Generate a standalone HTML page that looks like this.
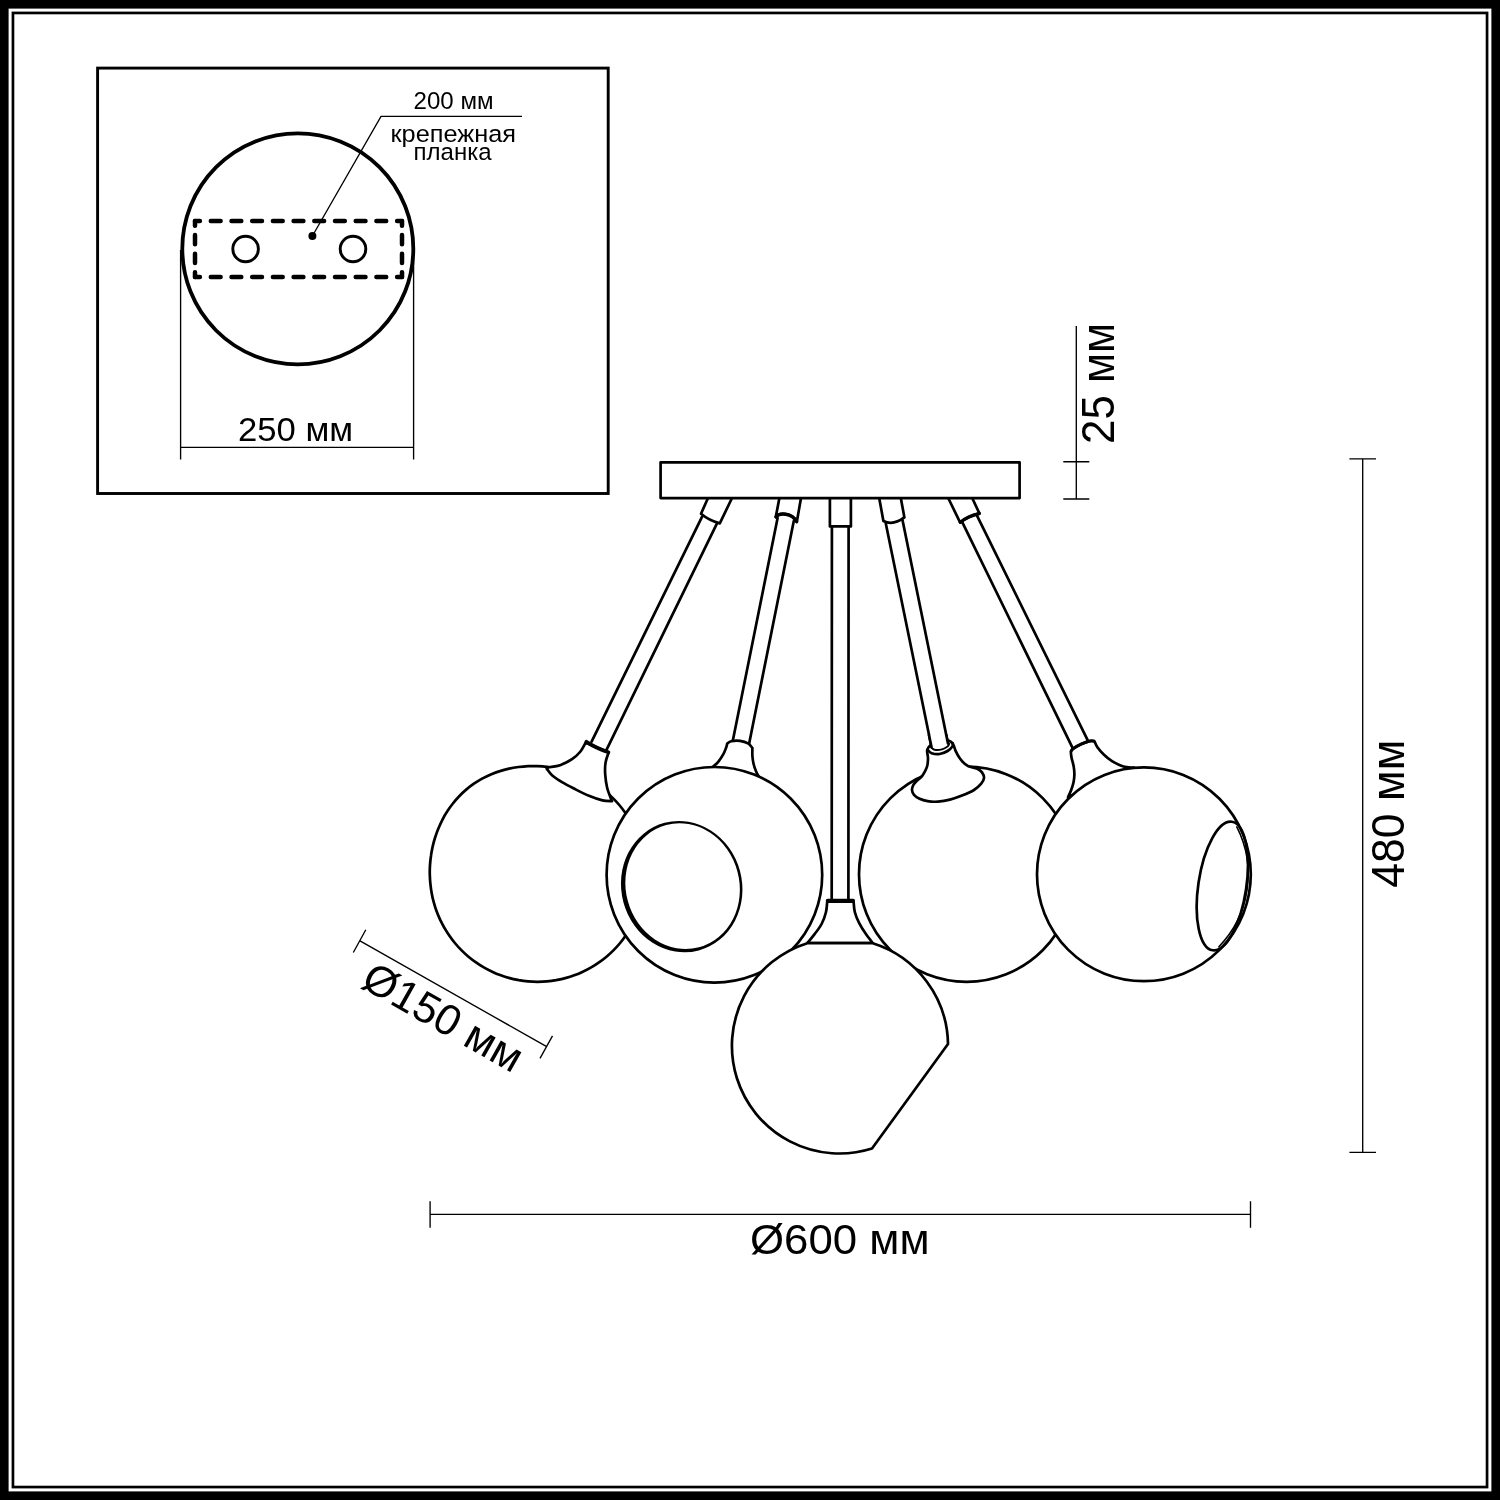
<!DOCTYPE html>
<html lang="ru">
<head>
<meta charset="utf-8">
<title>Схема светильника</title>
<style>
html,body{margin:0;padding:0;background:#fff;}
body{width:1500px;height:1500px;overflow:hidden;}
svg{display:block;}
svg{will-change:transform;}
text{font-family:"Liberation Sans",sans-serif;fill:#000;}
.l{fill:none;stroke:#000;stroke-width:2.7;stroke-linecap:round;stroke-linejoin:round;}
.f{fill:#fff;stroke:#000;stroke-width:2.7;stroke-linecap:round;stroke-linejoin:round;}
.t{fill:none;stroke:#000;stroke-width:1.35;}
</style>
</head>
<body>
<svg width="1500" height="1500" viewBox="0 0 1500 1500">

<rect x="0" y="0" width="1500" height="1500" fill="#000"/>
<rect x="8.6" y="8.6" width="1482.8" height="1482.8" fill="#fff"/>
<rect x="11.6" y="11.6" width="1476.8" height="1476.8" fill="#000"/>
<rect x="14.3" y="14.3" width="1471.4" height="1471.4" fill="#fff"/>
<g id="inset">
<rect x="97.6" y="68.1" width="510.6" height="425.4" fill="none" stroke="#000" stroke-width="2.9"/>
<circle cx="297.8" cy="248.8" r="115.5" fill="none" stroke="#000" stroke-width="3.8"/>
<path d="M195 221 H402 M195 277 H402" fill="none" stroke="#000" stroke-width="4.5" stroke-dasharray="9.8 10.9" stroke-dashoffset="4.9" stroke-linecap="round"/>
<path d="M195 221 V277 M402 221 V277" fill="none" stroke="#000" stroke-width="4.5" stroke-dasharray="9.4 9.267" stroke-dashoffset="4.7" stroke-linecap="round"/>
<circle cx="245.6" cy="249" r="12.8" fill="none" stroke="#000" stroke-width="2.9"/>
<circle cx="353" cy="249" r="12.8" fill="none" stroke="#000" stroke-width="2.9"/>
<circle cx="312.4" cy="236" r="4" fill="#000"/>
<path class="t" d="M312.4 236 L381 116.3 H522"/>
<path class="t" d="M180.6 250 V459.6 M413.6 250 V459.6 M180.6 447.4 H413.6"/>
<text x="413.5" y="109.3" font-size="23" textLength="80" lengthAdjust="spacingAndGlyphs">200 мм</text>
<text x="390.5" y="141.8" font-size="23.7" textLength="125.5" lengthAdjust="spacingAndGlyphs">крепежная</text>
<text x="413.6" y="159.8" font-size="23.7" textLength="78" lengthAdjust="spacingAndGlyphs">планка</text>
<text x="238" y="440.6" font-size="33.3" textLength="115.1" lengthAdjust="spacingAndGlyphs">250 мм</text>
</g>
<g id="dims">
<path class="t" d="M1076.3 326 V499 M1063.3 461.7 H1089.3 M1063.3 499 H1089.3"/>
<path class="t" d="M1362.7 458.9 V1152.3 M1349.4 458.9 H1376 M1349.4 1152.3 H1376"/>
<path class="t" d="M430.1 1214.4 H1250.5 M430.1 1201.3 V1227.7 M1250.5 1201.3 V1227.7"/>
<path class="t" d="M360 940.8 L546.7 1046.7 M365.8 929.7 L353.3 952.5 M552.5 1035.8 L540 1058.3"/>
<text x="750" y="1253.9" font-size="42.5" textLength="179.5" lengthAdjust="spacingAndGlyphs">Ø600 мм</text>
<text transform="translate(1404.4 887.8) rotate(-90)" font-size="46.4" textLength="148.1" lengthAdjust="spacingAndGlyphs">480 мм</text>
<text transform="translate(1114.3 444) rotate(-90)" font-size="45.6" textLength="121.2" lengthAdjust="spacingAndGlyphs">25 мм</text>
<text transform="translate(359.2 986.6) rotate(29.5)" font-size="43.2" textLength="176.5" lengthAdjust="spacingAndGlyphs">Ø150 мм</text>
</g>
<g id="lamp">
<path class="l" d="M702.0 516.8 L591.6 741.6 M717.0 523.4 L606.0 750.8 M777.6 518.0 L732.8 740.8 M793.8 521.0 L749.2 743.2 M831.9 526.4 L831.7 899.5 M848.6 526.4 L848.4 899.5 M885.8 523.4 L931.6 747.6 M902.6 520.4 L948.0 743.6 M962.6 522.8 L1072.8 748.4 M977.0 515.6 L1088.0 740.8"/>
<path class="f" d="M708 498 L701 513.8 Q709 520.5 719.8 523.4 L732 498"/>
<path class="f" d="M779.4 498 L775.8 516.8 C779 512.3 792 512.3 796.8 522 L801 498"/>
<path class="l" style="stroke-width:3.4" d="M776 517 C779 512.5 792 512.5 796.6 521.6"/>
<path class="f" d="M829.9 498 V526.4 H850.9 V498"/>
<path class="f" d="M879.2 498 L883.4 521 Q893 526 904.4 517.4 L900.8 498"/>
<path class="f" d="M948.2 498 L960.2 522.6 Q968 516 979.4 513.4 L972.2 498"/>
<path class="l" style="stroke-width:3.4" d="M960.4 522.2 Q968 516 979.2 513.6"/>
<rect class="f" x="660.6" y="462.3" width="359" height="35.8"/>
<path class="f" d="M827.2 901.6 C827.0 903.3 826.9 908.3 826.0 912.0 C825.1 915.7 823.5 920.3 821.6 924.0 C819.7 927.7 816.8 931.2 814.4 934.4 C812.0 937.6 808.4 941.7 807.2 943.2 L872.8 943.2  C871.6 941.6 867.9 936.9 865.6 933.6 C863.3 930.3 861.0 926.8 859.2 923.2 C857.4 919.6 855.7 915.6 854.8 912.0 C853.9 908.4 853.8 903.3 853.6 901.6 Z"/>
<path class="l" style="stroke-width:3.6" d="M827.6 900.6 H853.2"/>
<path class="f" d="M644.8 874.5 C644.8 877.6 644.7 880.7 644.4 883.9 C644.1 887.0 643.7 890.1 643.2 893.1 C642.6 896.2 642.0 899.3 641.1 902.3 C640.3 905.3 639.4 908.3 638.3 911.2 C637.3 914.1 636.1 917.0 634.7 919.8 C633.4 922.7 632.0 925.5 630.4 928.2 C628.9 930.8 627.2 933.5 625.4 936.0 C623.6 938.6 621.7 941.1 619.7 943.5 C617.7 945.9 615.6 948.2 613.4 950.4 C611.2 952.6 608.9 954.7 606.5 956.7 C604.1 958.7 601.6 960.6 599.0 962.4 C596.5 964.2 593.8 965.9 591.2 967.4 C588.5 969.0 585.7 970.4 582.8 971.7 C580.0 973.1 577.1 974.3 574.2 975.3 C571.3 976.4 568.3 977.3 565.3 978.1 C562.3 979.0 559.2 979.6 556.1 980.2 C553.1 980.7 550.0 981.1 546.9 981.4 C543.7 981.7 540.6 981.8 537.5 981.8 C534.4 981.8 531.3 981.7 528.1 981.4 C525.0 981.1 521.9 980.7 518.9 980.2 C515.8 979.6 512.7 979.0 509.7 978.1 C506.7 977.3 503.7 976.4 500.8 975.3 C497.9 974.3 495.0 973.1 492.2 971.7 C489.3 970.4 486.5 969.0 483.8 967.4 C481.2 965.9 478.5 964.2 476.0 962.4 C473.4 960.6 470.9 958.7 468.5 956.7 C466.1 954.7 463.8 952.6 461.6 950.4 C459.4 948.2 457.3 945.9 455.3 943.5 C453.3 941.1 451.4 938.6 449.6 936.0 C447.8 933.5 446.1 930.9 444.6 928.2 C443.0 925.5 441.6 922.7 440.2 919.9 C438.9 917.0 437.7 914.1 436.6 911.2 C435.5 908.3 434.6 905.3 433.8 902.3 C432.9 899.3 432.2 896.2 431.7 893.2 C431.1 890.1 430.7 887.0 430.4 883.9 C430.0 880.8 429.9 877.6 429.8 874.5 C429.7 871.4 429.8 868.2 430.0 865.1 C430.2 862.0 430.5 858.8 431.0 855.7 C431.4 852.6 432.0 849.5 432.7 846.4 C433.4 843.3 434.2 840.3 435.2 837.3 C436.2 834.2 437.2 831.3 438.5 828.3 C439.7 825.4 441.0 822.5 442.5 819.6 C443.9 816.8 445.5 814.0 447.3 811.3 C449.0 808.6 450.9 806.0 452.9 803.5 C454.8 800.9 457.0 798.5 459.2 796.2 C461.4 793.9 463.8 791.6 466.2 789.6 C468.7 787.5 471.3 785.5 473.9 783.7 C476.6 781.9 479.3 780.2 482.1 778.6 C485.0 777.1 487.9 775.7 490.8 774.4 C493.8 773.2 496.8 772.0 499.9 771.1 C502.9 770.1 506.0 769.3 509.1 768.6 C512.2 767.9 515.4 767.4 518.5 767.0 C521.7 766.6 524.9 766.3 528.0 766.1 C531.2 766.0 534.3 766.0 537.5 766.1 C540.7 766.2 543.8 766.4 546.9 766.8 C550.0 767.2 553.2 767.7 556.2 768.3 C559.3 768.9 562.4 769.6 565.4 770.5 C568.4 771.4 571.4 772.4 574.3 773.5 C577.2 774.6 580.1 775.8 582.9 777.1 C585.7 778.5 588.5 779.9 591.2 781.5 C593.9 783.1 596.5 784.8 599.1 786.6 C601.6 788.4 604.1 790.3 606.5 792.3 C608.9 794.3 611.2 796.4 613.4 798.6 C615.6 800.8 617.7 803.1 619.7 805.5 C621.7 807.9 623.6 810.4 625.4 813.0 C627.2 815.5 628.9 818.1 630.4 820.8 C632.0 823.5 633.4 826.3 634.7 829.2 C636.1 832.0 637.3 834.9 638.3 837.8 C639.4 840.7 640.3 843.7 641.1 846.7 C642.0 849.7 642.6 852.8 643.2 855.9 C643.7 858.9 644.1 862.0 644.4 865.1 C644.7 868.3 644.8 871.4 644.8 874.5Z"/>
<path class="f" d="M585.6 742.6 C584.7 744.2 582.3 749.2 580.0 752.0 C577.7 754.8 575.3 757.0 572.0 759.2 C568.7 761.4 564.0 763.8 560.0 765.2 C556.0 766.6 550.2 767.0 548.0 767.6 C545.8 768.2 547.0 768.6 546.8 768.8  C547.7 769.9 549.4 772.9 552.0 775.2 C554.6 777.5 558.4 780.0 562.4 782.4 C566.4 784.8 571.5 787.3 576.0 789.6 C580.5 791.9 585.2 794.2 589.6 796.0 C594.0 797.8 598.7 799.5 602.4 800.4 C606.1 801.3 610.4 801.1 612.0 801.2  C611.2 799.0 608.3 792.5 607.2 788.0 C606.1 783.5 605.5 778.7 605.2 774.4 C604.9 770.1 605.0 766.0 605.6 762.4 C606.2 758.8 608.1 754.2 608.6 752.6 Z"/>
<path class="l" style="stroke-width:3.8" d="M586.4 741.8 Q596 748 608.4 752.2"/>
<path class="f" d="M712.8 767.0 C713.7 766.1 716.7 763.7 718.4 761.6 C720.1 759.5 721.9 756.7 723.2 754.4 C724.5 752.1 725.3 749.8 726.0 748.0 C726.7 746.2 727.0 744.3 727.2 743.6  C727.9 743.2 729.1 741.7 731.2 741.2 C733.3 740.8 737.2 740.5 740.0 740.9 C742.8 741.3 745.9 742.2 748.0 743.4 C750.1 744.6 751.7 747.2 752.4 748.0  C752.4 749.3 752.2 753.3 752.4 756.0 C752.6 758.7 753.0 761.5 753.6 764.0 C754.2 766.5 755.1 769.1 756.0 771.2 C756.9 773.3 758.3 775.6 758.8 776.5 Z"/>
<circle class="f" cx="714.4" cy="874.8" r="107.8"/>
<path fill="#000" fill-rule="evenodd" d="M623.41 902.22 a60.35 66.05 -15.0 1 0 116.59 -31.24 a60.35 66.05 -15.0 1 0 -116.59 31.24 Z M627.78 900.84 a56.75 62.90 -15.0 1 0 109.63 -29.38 a56.75 62.90 -15.0 1 0 -109.63 29.38 Z"/>
<circle class="f" cx="966.6" cy="874.2" r="107.6"/>
<path class="f" d="M927.2 750.0 C926.7 752.2 928.0 755.3 928.0 758.0 C928.0 760.7 927.8 763.6 927.2 766.0 C926.6 768.4 925.4 770.5 924.4 772.4 C923.4 774.3 922.5 775.7 921.2 777.2 C919.9 778.7 917.7 779.9 916.4 781.2 C915.1 782.5 913.9 783.7 913.2 785.2 C912.5 786.7 911.9 788.4 912.0 790.0 C912.1 791.6 912.7 793.3 914.0 794.8 C915.3 796.3 917.3 797.7 919.6 798.8 C921.9 799.9 924.5 800.7 927.6 801.2 C930.7 801.7 934.3 801.9 938.0 801.6 C941.7 801.3 946.0 800.6 950.0 799.6 C954.0 798.6 958.0 797.2 962.0 795.6 C966.0 794.0 970.8 792.0 974.0 790.0 C977.2 788.0 979.5 785.6 981.2 783.6 C982.9 781.6 983.9 779.9 984.0 778.0 C984.1 776.1 983.1 773.9 982.0 772.4 C980.9 770.9 979.5 769.8 977.2 768.8 C974.9 767.8 970.5 767.1 968.4 766.2 C966.3 765.3 965.9 765.0 964.4 763.6 C962.9 762.2 961.1 760.1 959.6 758.0 C958.1 755.9 956.7 753.1 955.6 750.8 C954.5 748.5 954.3 746.1 953.2 744.4 C952.1 742.7 951.4 741.2 949.2 740.8 C947.0 740.4 943.0 741.3 940.0 742.0 C937.0 742.7 933.1 743.7 931.0 745.0 C928.9 746.3 927.7 747.8 927.2 750.0Z"/>
<path class="l" d="M927.4 749.6 C928.1 750.2 929.6 752.5 931.6 753.2 C933.6 753.9 936.9 754.4 939.6 754.0 C942.3 753.6 945.5 752.3 947.6 751.0 C949.7 749.7 951.6 747.7 952.4 746.4 C953.2 745.1 952.6 743.6 952.6 743.0"/>
<path class="l" style="stroke-width:1.9" d="M931.4 747.4 C932.0 747.8 933.0 749.5 934.8 749.8 C936.6 750.1 939.9 749.9 942.0 749.4 C944.1 748.9 946.4 747.5 947.6 746.6 C948.8 745.7 948.9 744.3 949.2 743.8"/>
<path d="M929 735 L931.6 747.6 Q940 751 948 743.6 L946.25 735 Z" fill="#fff" stroke="none"/>
<path class="l" d="M929 735 L931.6 747.6 M946.25 735 L948 743.6"/>
<path class="f" d="M1068.0 797.2 C1068.5 796.0 1070.3 792.5 1071.2 790.0 C1072.1 787.5 1073.1 784.7 1073.6 782.0 C1074.1 779.3 1074.4 776.7 1074.4 774.0 C1074.4 771.3 1074.1 768.7 1073.6 766.0 C1073.1 763.3 1072.1 760.4 1071.6 758.0 C1071.1 755.6 1070.9 752.7 1070.8 751.6  C1071.1 751.1 1071.0 750.1 1072.8 748.8 C1074.6 747.5 1078.8 745.3 1081.6 744.0 C1084.4 742.7 1087.5 741.7 1089.6 741.2 C1091.7 740.7 1093.6 741.2 1094.4 741.2  C1094.9 742.3 1096.0 745.3 1097.6 747.6 C1099.2 749.9 1101.6 752.5 1104.0 754.8 C1106.4 757.1 1109.3 759.5 1112.0 761.2 C1114.7 762.9 1117.6 764.2 1120.0 765.2 C1122.4 766.2 1124.1 766.8 1126.4 767.2 C1128.7 767.6 1132.7 767.5 1134.0 767.6 Z"/>
<path class="l" style="stroke-width:3" d="M1071.4 750.8 C1071.7 750.4 1071.7 749.6 1073.4 748.4 C1075.1 747.2 1078.9 745.0 1081.6 743.8 C1084.3 742.6 1087.6 741.5 1089.6 741.0 C1091.6 740.5 1093.1 741.0 1093.8 741.0"/>
<circle class="f" cx="1143.9" cy="874.3" r="106.9"/>
<ellipse class="l" cx="1222.3" cy="886" rx="24" ry="65" transform="rotate(8.5 1222.3 886)"/>
<path class="l" style="stroke-width:1.6" d="M1236.8 826.9 A104.3 104.3 0 0 1 1218.9 946.8"/>
<path class="f" d="M872.8 943.2 H807.2 A107.5 107.5 0 1 0 872 1148.5 L948 1044 A107.5 107.5 0 0 0 872.8 943.2 Z"/>
</g>
</svg>
</body>
</html>
